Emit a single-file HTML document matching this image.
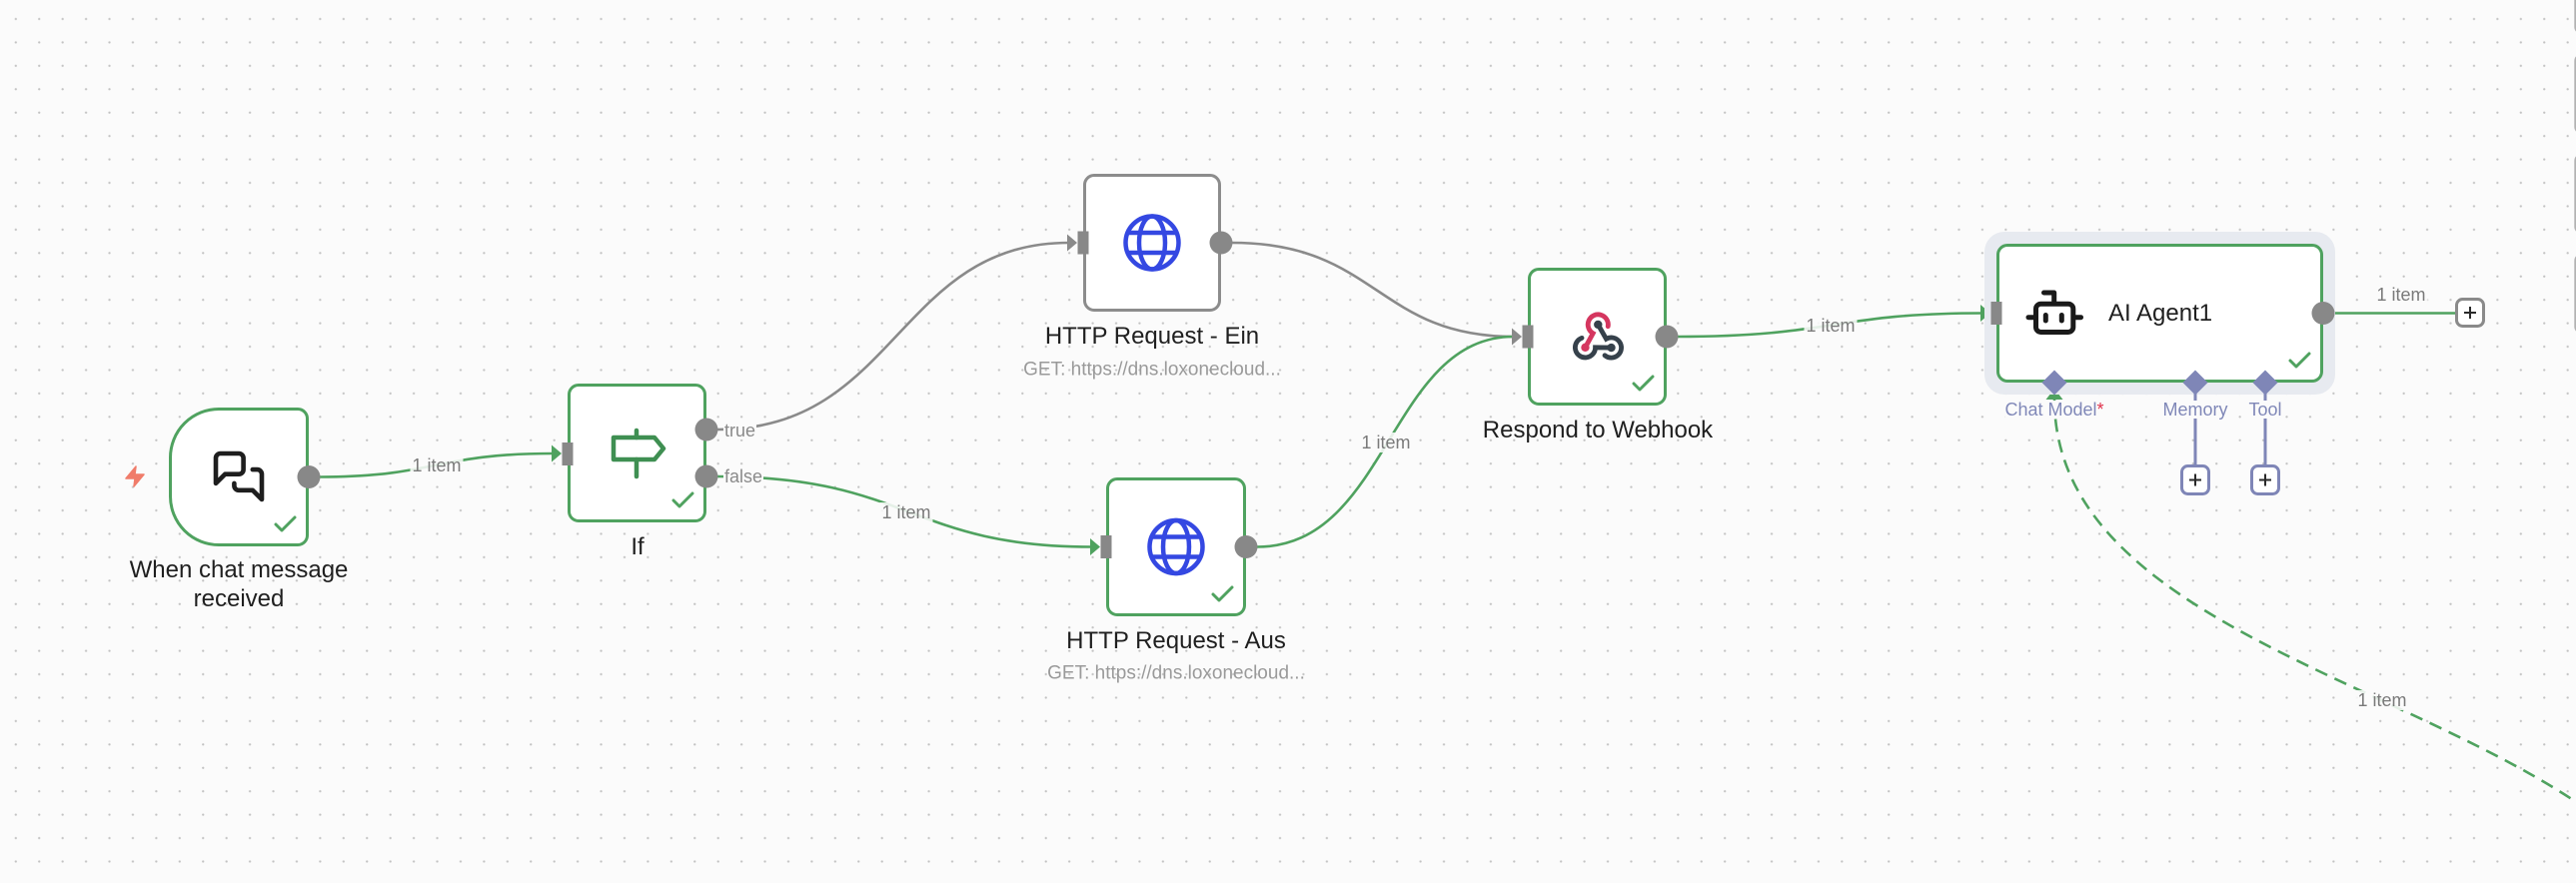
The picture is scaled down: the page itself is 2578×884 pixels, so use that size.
<!DOCTYPE html>
<html>
<head>
<meta charset="utf-8">
<style>
  html,body{margin:0;padding:0;width:2578px;height:884px;overflow:hidden;}
  body{background:#fbfbfb;font-family:"Liberation Sans",Arial,sans-serif;}
  #wrap{position:relative;width:2578px;height:884px;overflow:hidden;}
  svg{position:absolute;left:0;top:0;}
  .t{position:absolute;transform:translate(-50%,-50%);white-space:nowrap;line-height:1;}
  .nl{font-size:24px;color:#1f1f1f;}
  .sub{font-size:19px;color:#9a9a9a;}
  .el{font-size:18px;color:#7a7a7a;background:rgba(251,251,251,0.88);padding:1px 2px;}
  .hl{font-size:18px;color:#8a8a8a;background:#fbfbfb;padding:0 1px;position:absolute;line-height:1;white-space:nowrap;transform:translateY(-50%);}
  .dl{font-size:18px;color:#8088b8;background:#fbfbfb;}
</style>
</head>
<body>
<div id="wrap">
<svg width="2578" height="884" viewBox="0 0 2578 884">
  <defs>
    <pattern id="g" x="4.085" y="7.285" width="23.43" height="23.43" patternUnits="userSpaceOnUse">
      <circle cx="11.715" cy="11.715" r="1.15" fill="#c2c2c2"/>
    </pattern>
  </defs>
  <rect x="0" y="0" width="2578" height="884" fill="#fbfbfb"/>
  <rect x="0" y="0" width="2578" height="884" fill="url(#g)"/>

  <!-- right edge panels -->
  <g fill="none" stroke="#b2b2b2" stroke-width="2">
    <rect x="2577.3" y="-20" width="20" height="53" rx="6"/>
    <rect x="2577.3" y="55" width="20" height="78" rx="6"/>
    <rect x="2577.3" y="155" width="20" height="78" rx="6"/>
    <rect x="2577.3" y="255" width="20" height="78" rx="6"/>
  </g>

  <!-- edges -->
  <g fill="none" stroke-width="2.6" stroke-linecap="round">
    <path d="M320,477.5 C436,477.5 436,454 553,454" stroke="#4fa25f"/>
    <path d="M718,430 C898,430 898,243 1070,243" stroke="#8a8a8a"/>
    <path d="M718,477 C910,477 910,547.5 1093,547.5" stroke="#4fa25f"/>
    <path d="M1233,243 C1378,243 1378,337 1515,337" stroke="#8a8a8a"/>
    <path d="M1258,547.5 C1390,547.5 1390,337 1515,337" stroke="#4fa25f"/>
    <path d="M1679,337 C1835,337 1835,313.5 1984,313.5" stroke="#4fa25f"/>
    <path d="M2336,313.5 L2457,313.5" stroke="#4fa25f"/>
    <path d="M2589.9,810.9 C2400.1,678.1 2056,617.7 2056,399" stroke="#4fa25f" stroke-dasharray="13 8" stroke-linecap="butt"/>
  </g>

  <!-- arrowheads -->
  <g>
    <polygon points="552,445.5 562,454 552,462.5" fill="#4fa25f"/>
    <polygon points="1068,234.5 1078,243 1068,251.5" fill="#8a8a8a"/>
    <polygon points="1091,539 1101,547.5 1091,556" fill="#4fa25f"/>
    <polygon points="1513,328.5 1523,337 1513,345.5" fill="#8a8a8a"/>
    <polygon points="1982,305 1992,313.5 1982,322" fill="#4fa25f"/>
    <polygon points="2047.5,400 2056,389 2064.5,400" fill="#4fa25f"/>
  </g>

  <!-- AI agent halo -->
  <rect x="1986" y="232" width="351" height="163" rx="20" fill="#e7eaf0"/>

  <!-- nodes -->
  <g stroke-width="3" fill="#ffffff">
    <path d="M219,409.5 H298 A9.5,9.5 0 0 1 307.5,419 V536 A9.5,9.5 0 0 1 298,545.5 H219 A48.5,48.5 0 0 1 170.5,497 V458 A48.5,48.5 0 0 1 219,409.5 Z" stroke="#4fa25f"/>
    <rect x="569.5" y="385.5" width="136" height="136" rx="9.5" stroke="#4fa25f"/>
    <rect x="1085.5" y="175.5" width="135" height="135" rx="9.5" stroke="#8c8c8c"/>
    <rect x="1108.5" y="479.5" width="137" height="136" rx="9.5" stroke="#4fa25f"/>
    <rect x="1530.5" y="269.5" width="136" height="135" rx="9.5" stroke="#4fa25f"/>
    <rect x="1999.5" y="245.5" width="324" height="136" rx="9.5" stroke="#4fa25f"/>
  </g>

  <!-- sub-node connector lines -->
  <g stroke="#7f86b7" stroke-width="3">
    <line x1="2197" y1="383" x2="2197" y2="466"/>
    <line x1="2267" y1="383" x2="2267" y2="466"/>
  </g>

  <!-- handles -->
  <g fill="#888888">
    <circle cx="309" cy="477.5" r="11.5"/>
    <rect x="562.5" y="443" width="11" height="23"/>
    <circle cx="707" cy="430" r="11.5"/>
    <circle cx="707" cy="477" r="11.5"/>
    <rect x="1078.5" y="231.5" width="11" height="23"/>
    <circle cx="1222" cy="243" r="11.5"/>
    <rect x="1101.5" y="536" width="11" height="23"/>
    <circle cx="1247" cy="547.5" r="11.5"/>
    <rect x="1523.5" y="325.5" width="11" height="23"/>
    <circle cx="1668" cy="337" r="11.5"/>
    <rect x="1992.5" y="302" width="11" height="23"/>
    <circle cx="2325" cy="313.5" r="11.5"/>
  </g>
  <!-- diamonds -->
  <g fill="#7f86b7">
    <polygon points="2056,370.5 2068.5,383 2056,395.5 2043.5,383"/>
    <polygon points="2197,370.5 2209.5,383 2197,395.5 2184.5,383"/>
    <polygon points="2267,370.5 2279.5,383 2267,395.5 2254.5,383"/>
  </g>

  <!-- plus boxes -->
  <g fill="#ffffff" stroke-width="3">
    <rect x="2183.5" y="466.5" width="27" height="28" rx="6" stroke="#7f86b7"/>
    <rect x="2253.5" y="466.5" width="27" height="28" rx="6" stroke="#7f86b7"/>
    <rect x="2458.5" y="299.5" width="27" height="27" rx="6" stroke="#8a8a8a"/>
  </g>
  <g stroke="#2a2a2a" stroke-width="2">
    <line x1="2191" y1="480.5" x2="2203" y2="480.5"/><line x1="2197" y1="474.5" x2="2197" y2="486.5"/>
    <line x1="2261" y1="480.5" x2="2273" y2="480.5"/><line x1="2267" y1="474.5" x2="2267" y2="486.5"/>
    <line x1="2466" y1="313" x2="2478" y2="313"/><line x1="2472" y1="307" x2="2472" y2="319"/>
  </g>

  <!-- check marks -->
  <g fill="none" stroke="#4fa25f" stroke-width="3" stroke-linecap="round" stroke-linejoin="round">
    <path d="M276,525 L282,531 L295,518"/>
    <path d="M674,501 L680,507 L693,494"/>
    <path d="M1214,595 L1220,601 L1233,588"/>
    <path d="M1635,384 L1641,390 L1654,377"/>
    <path d="M2292,361 L2298,367 L2311,354"/>
  </g>

  <!-- lightning -->
  <polygon points="136,467 126,479 135,479 134,487 144,475 135,475" fill="#f07c6a" stroke="#f07c6a" stroke-width="1.5" stroke-linejoin="round"/>

  <!-- chat icon -->
  <g transform="translate(211.4,449.4) scale(2.3)" fill="none" stroke="#1e1e1e" stroke-width="2" stroke-linecap="round" stroke-linejoin="round">
    <path d="M14 9a2 2 0 0 1-2 2H6l-4 4V4a2 2 0 0 1 2-2h8a2 2 0 0 1 2 2z"/>
    <path d="M18 9h2a2 2 0 0 1 2 2v11l-4-4h-6a2 2 0 0 1-2-2v-1"/>
  </g>

  <!-- if signpost icon -->
  <g fill="none" stroke="#3f8f52" stroke-width="4.5" stroke-linecap="round" stroke-linejoin="round">
    <polygon points="614,438 655,438 664,449 655,460 614,460"/>
    <line x1="637" y1="431" x2="637" y2="438"/>
    <line x1="637" y1="460" x2="637" y2="477"/>
  </g>

  <!-- globe icons -->
  <g fill="none" stroke="#3448e2" stroke-width="4.5">
    <g transform="translate(1153,243)">
      <circle cx="0" cy="0" r="26.5"/>
      <ellipse cx="0" cy="0" rx="13" ry="26.5"/>
      <line x1="-24.5" y1="-10" x2="24.5" y2="-10"/>
      <line x1="-24.5" y1="10" x2="24.5" y2="10"/>
    </g>
    <g transform="translate(1177,547.5)">
      <circle cx="0" cy="0" r="26.5"/>
      <ellipse cx="0" cy="0" rx="13" ry="26.5"/>
      <line x1="-24.5" y1="-10" x2="24.5" y2="-10"/>
      <line x1="-24.5" y1="10" x2="24.5" y2="10"/>
    </g>
  </g>

  <!-- webhook icon -->
  <g transform="translate(1599.5,336.5) scale(0.21) translate(-130,-121)" fill="none" stroke-width="23" stroke-linecap="round">
    <path d="M68,175 L105,107.6 A48,48 0 1 1 176.3,74.3" stroke="#d5365f"/>
    <path d="M129,66 L168,134.4 A48,48 0 1 1 161,212.8" stroke="#36414b"/>
    <path d="M192,176 L116,175 A48,48 0 1 1 51.6,129.9" stroke="#36414b"/>
    <circle cx="68" cy="175" r="20" fill="#d5365f" stroke="none"/>
    <circle cx="129" cy="66" r="20" fill="#36414b" stroke="none"/>
    <circle cx="192" cy="176" r="20" fill="#36414b" stroke="none"/>
  </g>

  <!-- robot icon -->
  <g fill="none" stroke="#1a1a1a" stroke-width="5" stroke-linecap="round" stroke-linejoin="round">
    <rect x="2037.5" y="304.2" width="37.3" height="28.3" rx="5"/>
    <path d="M2045.5,293 H2055.7 V302"/>
    <line x1="2030" y1="317.7" x2="2035" y2="317.7"/>
    <line x1="2077.5" y1="317.7" x2="2082.5" y2="317.7"/>
    <line x1="2047.3" y1="315.5" x2="2047.3" y2="321"/>
    <line x1="2063.3" y1="315.5" x2="2063.3" y2="321"/>
  </g>
</svg>

<!-- node labels -->
<div class="t nl" style="left:239px;top:571px;">When chat message</div>
<div class="t nl" style="left:239px;top:600px;">received</div>
<div class="t nl" style="left:638px;top:548px;">If</div>
<div class="t nl" style="left:1153px;top:337px;">HTTP Request - Ein</div>
<div class="t sub" style="left:1153px;top:370px;">GET: https://dns.loxonecloud...</div>
<div class="t nl" style="left:1177px;top:642px;">HTTP Request - Aus</div>
<div class="t sub" style="left:1177px;top:674px;">GET: https://dns.loxonecloud...</div>
<div class="t nl" style="left:1599px;top:431px;">Respond to Webhook</div>
<div class="nl" style="position:absolute;left:2110px;top:313.5px;transform:translateY(-50%);line-height:1;white-space:nowrap;">AI Agent1</div>

<!-- handle labels -->
<div class="hl" style="left:724px;top:431px;">true</div>
<div class="hl" style="left:724px;top:477px;">false</div>

<!-- edge labels -->
<div class="t el" style="left:437px;top:466px;">1 item</div>
<div class="t el" style="left:907px;top:513px;">1 item</div>
<div class="t el" style="left:1387px;top:443px;">1 item</div>
<div class="t el" style="left:1832px;top:326px;">1 item</div>
<div class="t el" style="left:2403px;top:295px;">1 item</div>
<div class="t el" style="left:2384px;top:701px;">1 item</div>

<!-- sub-node labels -->
<div class="t dl" style="left:2056px;top:410px;">Chat Model<span style="color:#e0324b">*</span></div>
<div class="t dl" style="left:2197px;top:410px;">Memory</div>
<div class="t dl" style="left:2267px;top:410px;">Tool</div>
</div>
</body>
</html>
